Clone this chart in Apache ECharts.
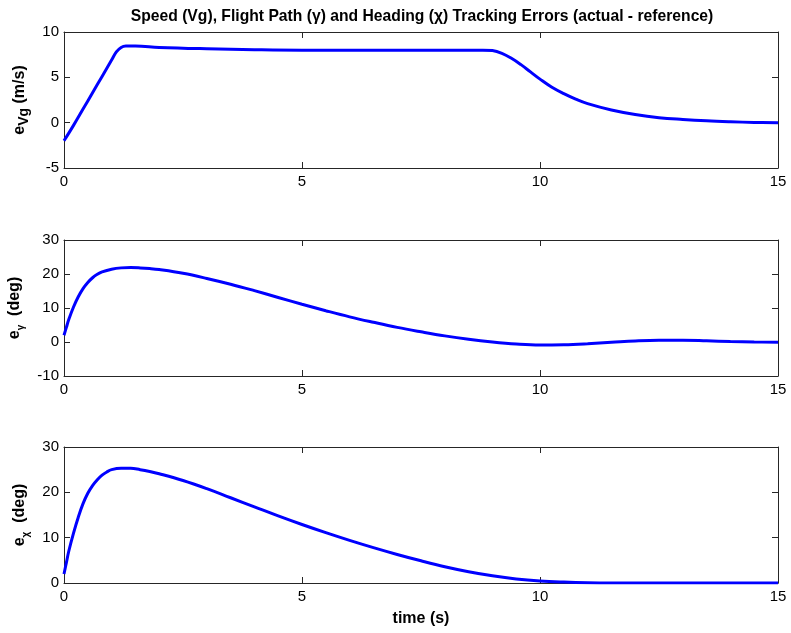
<!DOCTYPE html>
<html>
<head>
<meta charset="utf-8">
<script src="https://cdn.jsdelivr.net/npm/echarts@6/dist/echarts.min.js"></script>
<style>
html,body{margin:0;padding:0;background:#fff;}
#c{width:791px;height:633px;}
</style>
</head>
<body>
<div id="c"></div>
<script>
// ---- data ----
var titleText = 'Speed (Vg), Flight Path (\u03b3) and Heading (\u03c7) Tracking Errors (actual - reference)';
var xTicks = [0, 5, 10, 15];

var tVg = [0, 0.2, 0.4, 0.6, 0.8, 1.0, 1.1, 1.2, 1.3, 1.5, 2, 3, 4, 5, 6, 7, 8, 8.8, 9.0, 9.2, 9.4, 9.6, 9.8, 10, 10.25, 10.5, 10.75, 11, 11.5, 12, 12.5, 13, 13.5, 14, 14.5, 15];
var eVg = [-2.0, -0.3, 1.5, 3.3, 5.1, 6.9, 7.8, 8.3, 8.45, 8.45, 8.3, 8.15, 8.05, 8.0, 8.0, 8.0, 8.0, 8.0, 7.95, 7.65, 7.1, 6.4, 5.6, 4.8, 3.9, 3.2, 2.6, 2.1, 1.4, 0.9, 0.55, 0.35, 0.2, 0.1, 0.03, 0.0];

var tGamma = [0, 0.05, 0.1, 0.2, 0.3, 0.4, 0.5, 0.6, 0.7, 0.8, 1.0, 1.2, 1.4, 1.6, 1.8, 2.0, 2.5, 3, 3.5, 4, 4.5, 5, 5.5, 6, 6.5, 7, 7.5, 8, 8.5, 9, 9.5, 10, 10.5, 11, 11.5, 12, 12.5, 13, 13.5, 14, 14.5, 15];
var eGamma = [2, 4.3, 6.6, 10.3, 13.3, 15.7, 17.5, 18.9, 19.9, 20.6, 21.4, 21.8, 21.9, 21.8, 21.6, 21.3, 20.2, 18.7, 17.0, 15.1, 13.1, 11.1, 9.2, 7.4, 5.8, 4.3, 3.0, 1.8, 0.8, 0.0, -0.6, -0.9, -0.8, -0.5, -0.1, 0.3, 0.5, 0.5, 0.35, 0.15, 0.0, -0.1];

var tChi = [0, 0.05, 0.1, 0.2, 0.3, 0.4, 0.5, 0.6, 0.7, 0.8, 0.9, 1.0, 1.2, 1.4, 1.6, 1.8, 2.0, 2.5, 3, 3.5, 4, 4.5, 5, 5.5, 6, 6.5, 7, 7.5, 8, 8.5, 9, 9.5, 10, 10.5, 11, 11.5, 12, 13, 14, 15];
var eChi = [2, 4.5, 7, 11, 14.5, 17.5, 19.8, 21.5, 22.8, 23.8, 24.5, 25.0, 25.3, 25.3, 25.0, 24.6, 24.1, 22.6, 20.8, 18.8, 16.8, 14.8, 12.9, 11.1, 9.4, 7.8, 6.3, 4.9, 3.6, 2.5, 1.6, 0.9, 0.45, 0.2, 0.05, 0.0, 0, 0, 0, 0];

var yMins = [-5, -10, 0];
var yMaxs = [10, 30, 30];
var yIntervals = [5, 10, 10];

function pairs(t, v) { return t.map(function (x, i) { return [x, v[i]]; }); }

var FONT = '"Liberation Sans", Arial, Helvetica, sans-serif';
var AX = '#262626';
var tops = [32, 240, 447];

var grids = [], xAxes = [], yAxes = [], series = [];
var yNames = [
  '{a|e}{s|Vg}{a| (m/s)}',
  '{a|e}{g|\u03b3}{a|  (deg)}',
  '{a|e}{g|\u03c7}{a|  (deg)}'
];
var datasets = [pairs(tVg, eVg), pairs(tGamma, eGamma), pairs(tChi, eChi)];

for (var i = 0; i < 3; i++) {
  grids.push({ left: 64, right: 13, top: tops[i], height: 136, containLabel: false, outerBoundsMode: 'none' });
  xAxes.push({
    type: 'value', gridIndex: i, min: 0, max: 15, interval: 5, position: 'bottom',
    axisLine: { onZero: false, lineStyle: { color: AX, width: 1 } },
    axisTick: { inside: true, length: 6, lineStyle: { color: AX } },
    axisLabel: { color: '#000', fontFamily: FONT, fontSize: 15, margin: 6, hideOverlap: false },
    splitLine: { show: false },
    name: i === 2 ? 'time (s)' : '', nameLocation: 'middle', nameGap: 28,
    nameTextStyle: { color: '#000', fontFamily: FONT, fontSize: 16, fontWeight: 'bold' }
  });
  xAxes.push({
    type: 'value', gridIndex: i, min: 0, max: 15, interval: 5, position: 'top',
    axisLine: { onZero: false, lineStyle: { color: AX, width: 1 } },
    axisTick: { inside: true, length: 6, lineStyle: { color: AX } },
    axisLabel: { show: false }, splitLine: { show: false }
  });
  yAxes.push({
    type: 'value', gridIndex: i, min: yMins[i], max: yMaxs[i], interval: yIntervals[i], position: 'left',
    axisLine: { show: true, onZero: false, lineStyle: { color: AX, width: 1 } },
    axisTick: { show: true, inside: true, length: 6, lineStyle: { color: AX } },
    axisLabel: { color: '#000', fontFamily: FONT, fontSize: 15, margin: 5 },
    splitLine: { show: false },
    name: yNames[i], nameLocation: 'middle', nameGap: 31, nameRotate: 90,
    nameTextStyle: {
      rich: {
        a: { fontFamily: FONT, fontSize: 16, fontWeight: 'bold', color: '#000', lineHeight: 24, verticalAlign: 'middle' },
        s: { fontFamily: FONT, fontSize: 14, fontWeight: 'bold', color: '#000', lineHeight: 24, verticalAlign: 'bottom' },
        g: { fontFamily: FONT, fontSize: 10, fontWeight: 'bold', color: '#000', lineHeight: 24, verticalAlign: 'bottom' }
      }
    }
  });
  yAxes.push({
    type: 'value', gridIndex: i, min: yMins[i], max: yMaxs[i], interval: yIntervals[i], position: 'right',
    axisLine: { show: true, onZero: false, lineStyle: { color: AX, width: 1 } },
    axisTick: { show: true, inside: true, length: 6, lineStyle: { color: AX } },
    axisLabel: { show: false }, splitLine: { show: false }
  });
  series.push({
    type: 'line', xAxisIndex: 2 * i, yAxisIndex: 2 * i, data: datasets[i],
    smooth: 0.4, showSymbol: false, symbol: 'none',
    lineStyle: { color: '#0000ff', width: 3 }, z: 3
  });
}

var chart = echarts.init(document.getElementById('c'), null, { renderer: 'canvas' });
chart.setOption({
  animation: false,
  backgroundColor: '#fff',
  title: {
    text: titleText, left: 417, top: 4, textAlign: 'center',
    textStyle: { fontFamily: FONT, fontSize: 15.7, fontWeight: 'bold', color: '#000' }
  },
  grid: grids, xAxis: xAxes, yAxis: yAxes, series: series
});
</script>
</body>
</html>
